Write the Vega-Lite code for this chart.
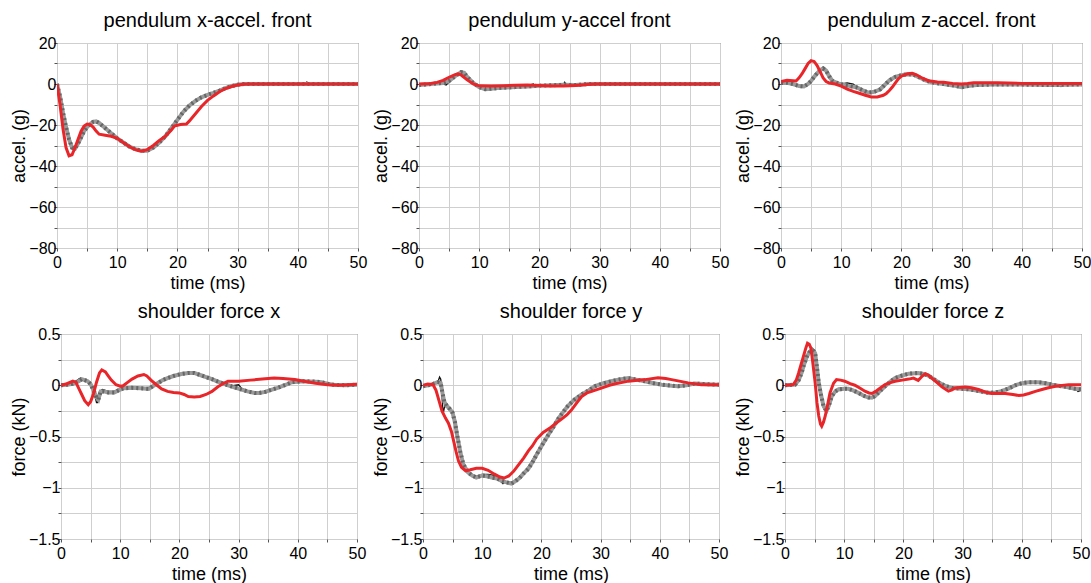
{
  "$schema": "https://vega.github.io/schema/vega-lite/v6.json",
  "padding": {"left": 9, "top": 10, "right": 0, "bottom": 2},
  "background": "white",
  "config": {
    "font": "Liberation Sans",
    "view": {"stroke": "#555555", "strokeWidth": 1},
    "title": {"fontSize": 20, "fontWeight": "normal", "color": "#000000", "font": "Liberation Sans", "offset": 4},
    "axis": {
      "labelFont": "Liberation Sans", "titleFont": "Liberation Sans",
      "labelFontSize": 16, "titleFontSize": 18, "titleFontWeight": "normal",
      "labelColor": "#000000", "titleColor": "#000000",
      "gridColor": "#cfcfcf", "gridWidth": 1, "domain": false,
      "tickSize": 3, "tickColor": "#555555",
      "labelFlush": false, "labelOverlap": false, "labelBound": false
    },
    "axisX": {"titlePadding": 4, "labelPadding": 3},
    "axisY": {"titlePadding": 0, "labelPadding": -2}
  },
  "datasets": {
    "r1": [{"t":0,"v":0},{"t":0.5,"v":-10},{"t":1,"v":-22},{"t":1.5,"v":-31},{"t":2,"v":-35},{"t":2.5,"v":-34.5},{"t":3,"v":-31},{"t":3.5,"v":-27},{"t":4,"v":-23},{"t":4.5,"v":-20.5},{"t":5,"v":-19.5},{"t":5.5,"v":-19.8},{"t":6,"v":-21},{"t":6.5,"v":-23},{"t":7,"v":-24.5},{"t":8,"v":-25},{"t":9,"v":-25.5},{"t":10,"v":-26.5},{"t":11,"v":-28.5},{"t":12,"v":-30.5},{"t":13,"v":-32},{"t":14,"v":-32.8},{"t":15,"v":-32},{"t":16,"v":-30},{"t":17,"v":-27.5},{"t":18,"v":-25.5},{"t":19,"v":-22.5},{"t":19.5,"v":-20.5},{"t":20.5,"v":-19.8},{"t":21.5,"v":-19.5},{"t":22,"v":-18},{"t":23,"v":-14.5},{"t":24,"v":-11},{"t":25,"v":-8},{"t":26,"v":-5.8},{"t":27,"v":-3.8},{"t":28,"v":-2.2},{"t":29,"v":-1.2},{"t":30,"v":-0.5},{"t":31,"v":-0.1},{"t":32,"v":0},{"t":50,"v":0}],
    "g1": [{"t":0,"v":0},{"t":0.5,"v":-6},{"t":1,"v":-14},{"t":1.5,"v":-21},{"t":2,"v":-27},{"t":2.5,"v":-31},{"t":3,"v":-31.5},{"t":3.5,"v":-29},{"t":4,"v":-26},{"t":4.5,"v":-23},{"t":5,"v":-21},{"t":5.5,"v":-19.5},{"t":6,"v":-18.5},{"t":6.5,"v":-18.2},{"t":7,"v":-19},{"t":8,"v":-21.5},{"t":9,"v":-24},{"t":10,"v":-26.5},{"t":11,"v":-28.5},{"t":12,"v":-30.5},{"t":13,"v":-31.8},{"t":14,"v":-32.5},{"t":15,"v":-32.5},{"t":16,"v":-31},{"t":17,"v":-28.5},{"t":18,"v":-25.5},{"t":19,"v":-21.5},{"t":20,"v":-17.5},{"t":21,"v":-13.5},{"t":22,"v":-10.5},{"t":23,"v":-8.2},{"t":24,"v":-6.5},{"t":25,"v":-5.3},{"t":26,"v":-4.3},{"t":27,"v":-3.2},{"t":28,"v":-2},{"t":29,"v":-1},{"t":30,"v":-0.4},{"t":31,"v":0},{"t":50,"v":0}],
    "k1": [{"t":0,"v":0},{"t":1,"v":-14},{"t":2,"v":-27.5},{"t":3,"v":-32},{"t":4,"v":-26},{"t":5,"v":-21},{"t":6,"v":-18.5},{"t":7,"v":-19.2},{"t":8,"v":-22},{"t":9,"v":-24.5},{"t":9.5,"v":-25.5},{"t":10,"v":-26},{"t":12,"v":-30.5},{"t":14,"v":-32.5},{"t":15,"v":-32.5},{"t":16,"v":-31},{"t":18,"v":-25.5},{"t":20,"v":-17.5},{"t":22,"v":-10.5},{"t":24,"v":-6.5},{"t":26,"v":-4.3},{"t":28,"v":-2},{"t":30,"v":-0.4},{"t":31,"v":0},{"t":35,"v":0.5},{"t":36,"v":0},{"t":41,"v":0},{"t":41.5,"v":1},{"t":42,"v":0},{"t":45,"v":0},{"t":45.5,"v":-0.5},{"t":46,"v":0},{"t":50,"v":0}],
    "r2": [{"t":0,"v":0},{"t":2,"v":0.3},{"t":3,"v":0.8},{"t":4,"v":1.8},{"t":5,"v":3.3},{"t":6,"v":4.6},{"t":6.5,"v":5},{"t":7,"v":4.4},{"t":8,"v":2},{"t":9,"v":0},{"t":10,"v":-0.9},{"t":12,"v":-1},{"t":14,"v":-0.8},{"t":16,"v":-0.6},{"t":18,"v":-0.5},{"t":20,"v":-0.7},{"t":22,"v":-1},{"t":24,"v":-1},{"t":26,"v":-0.7},{"t":28,"v":-0.3},{"t":29.5,"v":0},{"t":50,"v":0}],
    "g2": [{"t":0,"v":-0.5},{"t":1,"v":-0.3},{"t":2,"v":0},{"t":3,"v":0.3},{"t":4,"v":0.5},{"t":5,"v":1.5},{"t":6,"v":3.8},{"t":7,"v":5.8},{"t":7.5,"v":5.5},{"t":8,"v":3.5},{"t":9,"v":0.5},{"t":10,"v":-1.5},{"t":11,"v":-2.5},{"t":12,"v":-2.3},{"t":13,"v":-2},{"t":14,"v":-1.8},{"t":16,"v":-1.5},{"t":18,"v":-1.2},{"t":20,"v":-0.8},{"t":22,"v":-0.6},{"t":24,"v":-0.4},{"t":26,"v":-0.5},{"t":27,"v":-0.3},{"t":28,"v":0},{"t":50,"v":0}],
    "k2": [{"t":0,"v":-0.5},{"t":2,"v":0},{"t":4,"v":0},{"t":4.5,"v":-0.5},{"t":5,"v":1},{"t":6,"v":3.5},{"t":7,"v":5.5},{"t":8,"v":3.5},{"t":9,"v":0.5},{"t":10,"v":-1.5},{"t":11,"v":-2.5},{"t":12,"v":-2},{"t":13,"v":-1.5},{"t":14,"v":-1.2},{"t":16,"v":-1},{"t":18,"v":-0.8},{"t":19,"v":0},{"t":19.2,"v":-0.8},{"t":21,"v":-0.5},{"t":22.5,"v":-0.3},{"t":24,"v":-0.2},{"t":24.2,"v":0.8},{"t":24.4,"v":-0.3},{"t":26,"v":-0.4},{"t":28,"v":0},{"t":50,"v":0}],
    "r3": [{"t":0,"v":1.2},{"t":1,"v":1.8},{"t":2,"v":1.6},{"t":2.5,"v":1.5},{"t":3,"v":3},{"t":3.5,"v":5},{"t":4,"v":7.5},{"t":4.5,"v":10},{"t":5,"v":11.4},{"t":5.5,"v":11},{"t":6,"v":9},{"t":6.5,"v":6},{"t":7,"v":3},{"t":7.5,"v":1.2},{"t":8,"v":0.5},{"t":9,"v":0},{"t":10,"v":-1},{"t":11,"v":-2.5},{"t":12,"v":-3.6},{"t":13,"v":-4.5},{"t":14,"v":-5.5},{"t":15,"v":-6.3},{"t":16,"v":-6.3},{"t":17,"v":-5.5},{"t":17.5,"v":-4.6},{"t":18,"v":-3.2},{"t":18.5,"v":-1.5},{"t":19,"v":0.5},{"t":19.5,"v":2.5},{"t":20,"v":3.8},{"t":21,"v":5},{"t":21.8,"v":5.2},{"t":22.5,"v":4.5},{"t":23.5,"v":2.8},{"t":24.5,"v":1.6},{"t":26,"v":1},{"t":27,"v":0.8},{"t":28.5,"v":0.2},{"t":30,"v":0},{"t":31,"v":0.2},{"t":32,"v":0.6},{"t":36,"v":0.6},{"t":40,"v":0.3},{"t":50,"v":0.3}],
    "g3": [{"t":0,"v":0.5},{"t":1,"v":0.6},{"t":2,"v":0},{"t":3,"v":-1},{"t":3.8,"v":-1.2},{"t":4.5,"v":0},{"t":5,"v":1.5},{"t":5.5,"v":3.5},{"t":6,"v":5.2},{"t":6.5,"v":6.8},{"t":7,"v":7.6},{"t":7.5,"v":6.5},{"t":8,"v":3.8},{"t":8.5,"v":1.6},{"t":9.5,"v":0.3},{"t":11,"v":-0.8},{"t":12.5,"v":-1.6},{"t":13.5,"v":-3},{"t":14.5,"v":-4.2},{"t":15.5,"v":-3.8},{"t":16.5,"v":-2.6},{"t":17.2,"v":-0.5},{"t":18,"v":1.8},{"t":19,"v":3.5},{"t":20,"v":4.3},{"t":21,"v":4.8},{"t":22,"v":4.6},{"t":23,"v":3.2},{"t":24,"v":1.8},{"t":25,"v":0.8},{"t":26,"v":0.3},{"t":27,"v":0},{"t":28,"v":-0.5},{"t":29,"v":-0.9},{"t":30,"v":-1.6},{"t":31,"v":-1},{"t":32.5,"v":-0.5},{"t":35,"v":-0.3},{"t":40,"v":-0.3},{"t":45,"v":-0.5},{"t":50,"v":-0.2}],
    "k3": [{"t":0,"v":0.5},{"t":2,"v":0},{"t":3,"v":-1},{"t":4,"v":-1},{"t":4.5,"v":0},{"t":5,"v":1.5},{"t":6,"v":5.5},{"t":7,"v":7.5},{"t":7.5,"v":7},{"t":8,"v":3.8},{"t":9,"v":0.8},{"t":10,"v":0},{"t":11,"v":0.5},{"t":12,"v":0},{"t":13,"v":-2.5},{"t":14,"v":-3.5},{"t":15,"v":-4.5},{"t":16,"v":-3},{"t":17,"v":-0.5},{"t":18,"v":1.8},{"t":19,"v":3.5},{"t":20,"v":4.5},{"t":21,"v":5},{"t":22,"v":4.5},{"t":23,"v":3.2},{"t":24,"v":2},{"t":25,"v":1},{"t":26,"v":0.3},{"t":28,"v":-0.5},{"t":29.5,"v":-1.5},{"t":30,"v":-2},{"t":31,"v":-1},{"t":33,"v":-0.5},{"t":36,"v":-0.3},{"t":40,"v":0},{"t":43,"v":-0.3},{"t":46,"v":-0.5},{"t":46.5,"v":-1.2},{"t":47,"v":-0.3},{"t":50,"v":-0.2}],
    "r4": [{"t":0,"v":0},{"t":1,"v":0.015},{"t":2,"v":0.04},{"t":2.5,"v":0.03},{"t":3,"v":-0.03},{"t":3.5,"v":-0.09},{"t":4,"v":-0.15},{"t":4.6,"v":-0.19},{"t":5,"v":-0.16},{"t":5.5,"v":-0.08},{"t":6,"v":0.03},{"t":6.5,"v":0.12},{"t":6.9,"v":0.15},{"t":7.5,"v":0.13},{"t":8,"v":0.09},{"t":8.5,"v":0.05},{"t":9.3,"v":0.005},{"t":10,"v":-0.01},{"t":10.5,"v":-0.005},{"t":11.3,"v":0.03},{"t":12,"v":0.06},{"t":13,"v":0.09},{"t":14,"v":0.105},{"t":14.5,"v":0.09},{"t":15.2,"v":0.05},{"t":16,"v":0.01},{"t":17,"v":-0.035},{"t":18,"v":-0.06},{"t":19,"v":-0.07},{"t":20,"v":-0.075},{"t":20.8,"v":-0.09},{"t":21.5,"v":-0.11},{"t":22.5,"v":-0.115},{"t":23.5,"v":-0.11},{"t":24.5,"v":-0.09},{"t":25.5,"v":-0.06},{"t":26.5,"v":-0.015},{"t":27.5,"v":0.02},{"t":28.2,"v":0.04},{"t":30,"v":0.04},{"t":32,"v":0.05},{"t":34,"v":0.06},{"t":36,"v":0.07},{"t":37.5,"v":0.065},{"t":39.5,"v":0.055},{"t":41.5,"v":0.035},{"t":43,"v":0.02},{"t":45,"v":0.006},{"t":47,"v":0},{"t":50,"v":0.01}],
    "g4": [{"t":0,"v":0},{"t":1,"v":0.005},{"t":2,"v":0.015},{"t":3,"v":0.04},{"t":3.5,"v":0.06},{"t":4,"v":0.05},{"t":4.5,"v":0.04},{"t":5,"v":0.01},{"t":5.5,"v":-0.05},{"t":6,"v":-0.12},{"t":6.3,"v":-0.14},{"t":6.7,"v":-0.06},{"t":7.2,"v":-0.06},{"t":8,"v":-0.07},{"t":9,"v":-0.07},{"t":9.7,"v":-0.05},{"t":10.5,"v":-0.03},{"t":12,"v":-0.025},{"t":13.5,"v":-0.03},{"t":14.8,"v":-0.035},{"t":15.5,"v":-0.01},{"t":16.3,"v":0.02},{"t":17.2,"v":0.05},{"t":18,"v":0.07},{"t":19,"v":0.09},{"t":20.3,"v":0.11},{"t":21.5,"v":0.12},{"t":22.5,"v":0.12},{"t":23.5,"v":0.1},{"t":24.5,"v":0.08},{"t":25.5,"v":0.06},{"t":26.5,"v":0.035},{"t":28,"v":0.005},{"t":29,"v":-0.015},{"t":30.4,"v":-0.04},{"t":31.5,"v":-0.06},{"t":32.7,"v":-0.075},{"t":33.5,"v":-0.075},{"t":34.5,"v":-0.065},{"t":35.5,"v":-0.045},{"t":36.6,"v":-0.025},{"t":38,"v":0.005},{"t":39,"v":0.03},{"t":41,"v":0.04},{"t":43,"v":0.035},{"t":44,"v":0.03},{"t":45,"v":0.015},{"t":46,"v":0.005},{"t":48,"v":0},{"t":50,"v":0.005}],
    "k4": [{"t":0,"v":0},{"t":2,"v":0.015},{"t":3,"v":0.06},{"t":3.3,"v":0.07},{"t":4,"v":0.05},{"t":4.5,"v":0.045},{"t":5,"v":0.01},{"t":5.5,"v":-0.05},{"t":6,"v":-0.17},{"t":6.2,"v":-0.17},{"t":6.5,"v":-0.06},{"t":7,"v":-0.04},{"t":8,"v":-0.06},{"t":9,"v":-0.06},{"t":10,"v":-0.03},{"t":11,"v":-0.02},{"t":12,"v":-0.02},{"t":13,"v":-0.02},{"t":14.5,"v":-0.03},{"t":16,"v":0.01},{"t":18,"v":0.07},{"t":20,"v":0.11},{"t":22,"v":0.12},{"t":24,"v":0.09},{"t":26,"v":0.05},{"t":28,"v":0.005},{"t":29,"v":-0.005},{"t":30,"v":0.005},{"t":30.5,"v":-0.03},{"t":32,"v":-0.07},{"t":33,"v":-0.08},{"t":34,"v":-0.07},{"t":36,"v":-0.03},{"t":38,"v":0.005},{"t":40,"v":0.04},{"t":42,"v":0.04},{"t":43,"v":0.04},{"t":44,"v":0.035},{"t":45,"v":0.01},{"t":46,"v":0},{"t":50,"v":0.005}],
    "r5": [{"t":0,"v":0},{"t":0.8,"v":0.012},{"t":1.7,"v":0.005},{"t":2.2,"v":-0.05},{"t":2.7,"v":-0.15},{"t":3.2,"v":-0.25},{"t":3.8,"v":-0.32},{"t":4.3,"v":-0.37},{"t":4.8,"v":-0.45},{"t":5.2,"v":-0.55},{"t":5.6,"v":-0.65},{"t":6,"v":-0.74},{"t":6.5,"v":-0.8},{"t":7.2,"v":-0.835},{"t":8,"v":-0.825},{"t":9,"v":-0.81},{"t":10,"v":-0.81},{"t":11,"v":-0.83},{"t":12,"v":-0.865},{"t":13,"v":-0.895},{"t":13.7,"v":-0.905},{"t":14.5,"v":-0.885},{"t":15.3,"v":-0.84},{"t":16.1,"v":-0.78},{"t":17,"v":-0.71},{"t":17.8,"v":-0.64},{"t":18.5,"v":-0.59},{"t":19.2,"v":-0.525},{"t":20.3,"v":-0.46},{"t":21.5,"v":-0.415},{"t":22.5,"v":-0.37},{"t":23.4,"v":-0.33},{"t":24.3,"v":-0.29},{"t":25.1,"v":-0.24},{"t":26,"v":-0.17},{"t":26.8,"v":-0.11},{"t":27.7,"v":-0.075},{"t":28.5,"v":-0.06},{"t":30,"v":-0.03},{"t":31.5,"v":0},{"t":32.5,"v":0.015},{"t":34.7,"v":0.04},{"t":37.5,"v":0.055},{"t":39.7,"v":0.074},{"t":41,"v":0.065},{"t":42,"v":0.055},{"t":44.8,"v":0.023},{"t":47,"v":0.006},{"t":50,"v":0.006}],
    "g5": [{"t":0,"v":-0.01},{"t":1.4,"v":0.006},{"t":2.5,"v":0.03},{"t":3,"v":0.02},{"t":3.3,"v":-0.08},{"t":3.6,"v":-0.16},{"t":4,"v":-0.2},{"t":4.5,"v":-0.23},{"t":5,"v":-0.27},{"t":5.4,"v":-0.36},{"t":5.8,"v":-0.5},{"t":6.3,"v":-0.65},{"t":6.8,"v":-0.77},{"t":7.6,"v":-0.85},{"t":8.3,"v":-0.88},{"t":9,"v":-0.9},{"t":10,"v":-0.88},{"t":11,"v":-0.89},{"t":11.6,"v":-0.9},{"t":12.5,"v":-0.91},{"t":13.2,"v":-0.93},{"t":14,"v":-0.945},{"t":14.9,"v":-0.96},{"t":15.5,"v":-0.94},{"t":16.3,"v":-0.905},{"t":17,"v":-0.86},{"t":17.8,"v":-0.815},{"t":18.6,"v":-0.74},{"t":19.4,"v":-0.655},{"t":20.2,"v":-0.575},{"t":21.1,"v":-0.49},{"t":22,"v":-0.41},{"t":22.8,"v":-0.33},{"t":23.7,"v":-0.26},{"t":24.5,"v":-0.2},{"t":25.6,"v":-0.14},{"t":26.8,"v":-0.09},{"t":28,"v":-0.05},{"t":29,"v":-0.01},{"t":30.5,"v":0.02},{"t":31.8,"v":0.039},{"t":33,"v":0.055},{"t":34.7,"v":0.07},{"t":36,"v":0.055},{"t":37.5,"v":0.039},{"t":39,"v":0.02},{"t":40.3,"v":0.006},{"t":42,"v":-0.005},{"t":43.1,"v":-0.01},{"t":44.5,"v":0},{"t":45.9,"v":0.016},{"t":48,"v":0.01},{"t":50,"v":0.006}],
    "k5": [{"t":0,"v":-0.01},{"t":1.4,"v":0.006},{"t":2.5,"v":0.03},{"t":2.8,"v":0.08},{"t":3,"v":0.06},{"t":3.2,"v":-0.1},{"t":3.4,"v":-0.28},{"t":3.6,"v":-0.22},{"t":4,"v":-0.18},{"t":4.5,"v":-0.22},{"t":5,"v":-0.26},{"t":5.4,"v":-0.35},{"t":5.8,"v":-0.5},{"t":6.3,"v":-0.66},{"t":6.8,"v":-0.78},{"t":7.6,"v":-0.86},{"t":8.3,"v":-0.87},{"t":9,"v":-0.89},{"t":10,"v":-0.87},{"t":11,"v":-0.87},{"t":12,"v":-0.88},{"t":13,"v":-0.93},{"t":13.5,"v":-0.96},{"t":14,"v":-0.94},{"t":15,"v":-0.95},{"t":16,"v":-0.91},{"t":17,"v":-0.85},{"t":18,"v":-0.78},{"t":19,"v":-0.68},{"t":20,"v":-0.59},{"t":21,"v":-0.5},{"t":22,"v":-0.42},{"t":23,"v":-0.32},{"t":24.5,"v":-0.2},{"t":26,"v":-0.12},{"t":27.5,"v":-0.06},{"t":29,"v":-0.01},{"t":31,"v":0.03},{"t":33,"v":0.05},{"t":35,"v":0.065},{"t":37,"v":0.04},{"t":39,"v":0.02},{"t":40,"v":0},{"t":41,"v":-0.005},{"t":42,"v":-0.01},{"t":43,"v":-0.005},{"t":44,"v":-0.01},{"t":46,"v":0.015},{"t":48,"v":0.01},{"t":50,"v":0.006}],
    "r6": [{"t":0,"v":0},{"t":1.4,"v":0.006},{"t":1.9,"v":0.05},{"t":2.3,"v":0.12},{"t":2.7,"v":0.2},{"t":3.1,"v":0.28},{"t":3.5,"v":0.36},{"t":3.8,"v":0.41},{"t":4.1,"v":0.4},{"t":4.4,"v":0.36},{"t":4.7,"v":0.22},{"t":5.1,"v":0.02},{"t":5.4,"v":-0.17},{"t":5.7,"v":-0.3},{"t":6,"v":-0.38},{"t":6.2,"v":-0.4},{"t":6.5,"v":-0.36},{"t":6.8,"v":-0.3},{"t":7.2,"v":-0.19},{"t":7.6,"v":-0.074},{"t":8.2,"v":0.02},{"t":8.7,"v":0.055},{"t":9.4,"v":0.05},{"t":10.1,"v":0.039},{"t":11,"v":0.015},{"t":11.8,"v":0},{"t":12.7,"v":-0.03},{"t":13.5,"v":-0.058},{"t":14.2,"v":-0.075},{"t":14.7,"v":-0.08},{"t":15.3,"v":-0.06},{"t":15.8,"v":-0.04},{"t":16.9,"v":0.006},{"t":17.8,"v":0.025},{"t":18.6,"v":0.039},{"t":19.8,"v":0.05},{"t":20.9,"v":0.06},{"t":21.7,"v":0.07},{"t":22.5,"v":0.048},{"t":23.2,"v":0.09},{"t":23.7,"v":0.113},{"t":24.2,"v":0.1},{"t":24.8,"v":0.07},{"t":25.6,"v":0.03},{"t":26.5,"v":-0.016},{"t":27.6,"v":-0.058},{"t":28.2,"v":-0.045},{"t":28.7,"v":-0.026},{"t":30.4,"v":-0.016},{"t":31.5,"v":-0.025},{"t":32.7,"v":-0.042},{"t":34,"v":-0.07},{"t":34.9,"v":-0.08},{"t":37.2,"v":-0.08},{"t":38.5,"v":-0.09},{"t":39.5,"v":-0.1},{"t":40.3,"v":-0.095},{"t":41.2,"v":-0.08},{"t":42.3,"v":-0.06},{"t":43.4,"v":-0.042},{"t":44.5,"v":-0.025},{"t":45.7,"v":-0.01},{"t":47.9,"v":0.006},{"t":50,"v":0.006}],
    "g6": [{"t":0,"v":0},{"t":1.7,"v":0.006},{"t":2.3,"v":0.05},{"t":2.8,"v":0.12},{"t":3.2,"v":0.2},{"t":3.7,"v":0.28},{"t":4.1,"v":0.32},{"t":4.5,"v":0.345},{"t":4.9,"v":0.33},{"t":5.1,"v":0.31},{"t":5.4,"v":0.17},{"t":5.7,"v":0.023},{"t":6.1,"v":-0.1},{"t":6.5,"v":-0.2},{"t":7,"v":-0.25},{"t":7.4,"v":-0.2},{"t":7.9,"v":-0.106},{"t":8.5,"v":-0.06},{"t":9,"v":-0.042},{"t":10,"v":-0.035},{"t":10.7,"v":-0.035},{"t":11.5,"v":-0.05},{"t":12.4,"v":-0.074},{"t":13.2,"v":-0.1},{"t":14.1,"v":-0.12},{"t":14.7,"v":-0.12},{"t":15.2,"v":-0.106},{"t":16,"v":-0.06},{"t":16.9,"v":-0.01},{"t":17.8,"v":0.035},{"t":18.6,"v":0.07},{"t":19.8,"v":0.095},{"t":20.9,"v":0.113},{"t":22.5,"v":0.12},{"t":23.4,"v":0.11},{"t":24.2,"v":0.094},{"t":25,"v":0.065},{"t":25.9,"v":0.03},{"t":27,"v":-0.005},{"t":28.2,"v":-0.026},{"t":29.9,"v":-0.035},{"t":31,"v":-0.04},{"t":32.1,"v":-0.05},{"t":33.2,"v":-0.062},{"t":34.4,"v":-0.074},{"t":35.5,"v":-0.07},{"t":36.6,"v":-0.058},{"t":37.8,"v":-0.03},{"t":38.9,"v":0},{"t":40,"v":0.02},{"t":41.2,"v":0.03},{"t":42.8,"v":0.03},{"t":44,"v":0.02},{"t":45.1,"v":0.006},{"t":46.2,"v":-0.005},{"t":47.4,"v":-0.016},{"t":48.2,"v":-0.025},{"t":49,"v":-0.035},{"t":50,"v":-0.04}],
    "k6": [{"t":0,"v":0},{"t":1.7,"v":0.006},{"t":2.8,"v":0.12},{"t":3.7,"v":0.28},{"t":4.3,"v":0.33},{"t":4.6,"v":0.36},{"t":5,"v":0.34},{"t":5.3,"v":0.2},{"t":5.7,"v":0.02},{"t":6.1,"v":-0.1},{"t":6.5,"v":-0.22},{"t":6.9,"v":-0.26},{"t":7.3,"v":-0.2},{"t":7.9,"v":-0.1},{"t":8.5,"v":-0.05},{"t":9,"v":-0.03},{"t":10,"v":-0.03},{"t":11,"v":-0.04},{"t":12,"v":-0.07},{"t":13,"v":-0.09},{"t":14,"v":-0.12},{"t":14.7,"v":-0.13},{"t":15.5,"v":-0.1},{"t":16.5,"v":-0.02},{"t":17.5,"v":0.03},{"t":18.6,"v":0.07},{"t":20,"v":0.1},{"t":21,"v":0.11},{"t":22.5,"v":0.12},{"t":24,"v":0.1},{"t":25,"v":0.07},{"t":26,"v":0.03},{"t":27,"v":0},{"t":28,"v":-0.02},{"t":30,"v":-0.04},{"t":32,"v":-0.05},{"t":34,"v":-0.07},{"t":35.5,"v":-0.07},{"t":37,"v":-0.05},{"t":38.5,"v":-0.01},{"t":40,"v":0.02},{"t":42,"v":0.03},{"t":43,"v":0.025},{"t":45,"v":0.006},{"t":47,"v":-0.015},{"t":48,"v":-0.02},{"t":49,"v":-0.03},{"t":49.5,"v":-0.06},{"t":50,"v":-0.05}]
  },
  "spacing": 8,
  "align": "none",
  "vconcat": [
    {
      "bounds": "flush",
      "spacing": 61,
      "hconcat": [
        {
          "title": "pendulum x-accel. front",
          "width": 301, "height": 205,
          "encoding": {
            "x": {"field": "t", "type": "quantitative", "scale": {"domain": [0, 50], "nice": false}, "axis": {"title": "time (ms)", "values": [0,5,10,15,20,25,30,35,40,45,50], "labelExpr": "datum.value % 10 == 0 ? datum.label : ''"}},
            "y": {"field": "v", "type": "quantitative", "scale": {"domain": [-80, 20], "nice": false}, "axis": {"title": "accel. (g)", "values": [-80,-70,-60,-50,-40,-30,-20,-10,0,10,20], "labelExpr": "datum.value % 20 == 0 ? datum.label : ''"}}
          },
          "layer": [
            {"data": {"values": [{}]}, "mark": {"type": "rule", "color": "#555555", "strokeWidth": 1}, "encoding": {"x": {"datum": 0}, "x2": {"datum": 50}, "y": {"datum": 0}}},
            {"data": {"name": "k1"}, "mark": {"type": "line", "color": "#111111", "strokeWidth": 1.3, "clip": true}},
            {"data": {"name": "g1"}, "mark": {"type": "line", "color": "#9a9a9a", "strokeWidth": 4, "clip": true}},
            {"data": {"name": "g1"}, "mark": {"type": "line", "color": "#666666", "strokeWidth": 4, "strokeDash": [2, 3], "clip": true}},
            {"data": {"name": "r1"}, "mark": {"type": "line", "color": "#e8262a", "strokeWidth": 3, "clip": true}}
          ]
        },
        {
          "title": "pendulum y-accel front",
          "width": 301, "height": 205,
          "encoding": {
            "x": {"field": "t", "type": "quantitative", "scale": {"domain": [0, 50], "nice": false}, "axis": {"title": "time (ms)", "values": [0,5,10,15,20,25,30,35,40,45,50], "labelExpr": "datum.value % 10 == 0 ? datum.label : ''"}},
            "y": {"field": "v", "type": "quantitative", "scale": {"domain": [-80, 20], "nice": false}, "axis": {"title": "accel. (g)", "values": [-80,-70,-60,-50,-40,-30,-20,-10,0,10,20], "labelExpr": "datum.value % 20 == 0 ? datum.label : ''"}}
          },
          "layer": [
            {"data": {"values": [{}]}, "mark": {"type": "rule", "color": "#555555", "strokeWidth": 1}, "encoding": {"x": {"datum": 0}, "x2": {"datum": 50}, "y": {"datum": 0}}},
            {"data": {"name": "k2"}, "mark": {"type": "line", "color": "#111111", "strokeWidth": 1.3, "clip": true}},
            {"data": {"name": "g2"}, "mark": {"type": "line", "color": "#9a9a9a", "strokeWidth": 4, "clip": true}},
            {"data": {"name": "g2"}, "mark": {"type": "line", "color": "#666666", "strokeWidth": 4, "strokeDash": [2, 3], "clip": true}},
            {"data": {"name": "r2"}, "mark": {"type": "line", "color": "#e8262a", "strokeWidth": 3, "clip": true}}
          ]
        },
        {
          "title": "pendulum z-accel. front",
          "width": 301, "height": 205,
          "encoding": {
            "x": {"field": "t", "type": "quantitative", "scale": {"domain": [0, 50], "nice": false}, "axis": {"title": "time (ms)", "values": [0,5,10,15,20,25,30,35,40,45,50], "labelExpr": "datum.value % 10 == 0 ? datum.label : ''"}},
            "y": {"field": "v", "type": "quantitative", "scale": {"domain": [-80, 20], "nice": false}, "axis": {"title": "accel. (g)", "values": [-80,-70,-60,-50,-40,-30,-20,-10,0,10,20], "labelExpr": "datum.value % 20 == 0 ? datum.label : ''"}}
          },
          "layer": [
            {"data": {"values": [{}]}, "mark": {"type": "rule", "color": "#555555", "strokeWidth": 1}, "encoding": {"x": {"datum": 0}, "x2": {"datum": 50}, "y": {"datum": 0}}},
            {"data": {"name": "k3"}, "mark": {"type": "line", "color": "#111111", "strokeWidth": 1.3, "clip": true}},
            {"data": {"name": "g3"}, "mark": {"type": "line", "color": "#9a9a9a", "strokeWidth": 4, "clip": true}},
            {"data": {"name": "g3"}, "mark": {"type": "line", "color": "#666666", "strokeWidth": 4, "strokeDash": [2, 3], "clip": true}},
            {"data": {"name": "r3"}, "mark": {"type": "line", "color": "#e8262a", "strokeWidth": 3, "clip": true}}
          ]
        }
      ]
    },
    {
      "bounds": "flush",
      "spacing": 0,
      "hconcat": [
        {
          "width": 4, "height": 1,
          "view": {"stroke": null},
          "data": {"values": [{}]},
          "mark": {"type": "point", "opacity": 0}
        },
        {
          "bounds": "flush",
          "spacing": 66,
          "hconcat": [
            {
              "title": "shoulder force x",
              "width": 296, "height": 205,
              "encoding": {
                "x": {"field": "t", "type": "quantitative", "scale": {"domain": [0, 50], "nice": false}, "axis": {"title": "time (ms)", "values": [0,5,10,15,20,25,30,35,40,45,50], "labelExpr": "datum.value % 10 == 0 ? datum.label : ''"}},
                "y": {"field": "v", "type": "quantitative", "scale": {"domain": [-1.5, 0.5], "nice": false}, "axis": {"title": "force (kN)", "format": "~g", "values": [-1.5,-1.25,-1,-0.75,-0.5,-0.25,0,0.25,0.5], "labelExpr": "datum.value % 0.5 == 0 ? datum.label : ''"}}
              },
              "layer": [
                {"data": {"values": [{}]}, "mark": {"type": "rule", "color": "#555555", "strokeWidth": 1}, "encoding": {"x": {"datum": 0}, "x2": {"datum": 50}, "y": {"datum": 0}}},
                {"data": {"name": "k4"}, "mark": {"type": "line", "color": "#111111", "strokeWidth": 1.3, "clip": true}},
                {"data": {"name": "g4"}, "mark": {"type": "line", "color": "#9a9a9a", "strokeWidth": 4, "clip": true}},
                {"data": {"name": "g4"}, "mark": {"type": "line", "color": "#666666", "strokeWidth": 4, "strokeDash": [2, 3], "clip": true}},
                {"data": {"name": "r4"}, "mark": {"type": "line", "color": "#e8262a", "strokeWidth": 3, "clip": true}}
              ]
            },
            {
              "title": "shoulder force y",
              "width": 296, "height": 205,
              "encoding": {
                "x": {"field": "t", "type": "quantitative", "scale": {"domain": [0, 50], "nice": false}, "axis": {"title": "time (ms)", "values": [0,5,10,15,20,25,30,35,40,45,50], "labelExpr": "datum.value % 10 == 0 ? datum.label : ''"}},
                "y": {"field": "v", "type": "quantitative", "scale": {"domain": [-1.5, 0.5], "nice": false}, "axis": {"title": "force (kN)", "format": "~g", "values": [-1.5,-1.25,-1,-0.75,-0.5,-0.25,0,0.25,0.5], "labelExpr": "datum.value % 0.5 == 0 ? datum.label : ''"}}
              },
              "layer": [
                {"data": {"values": [{}]}, "mark": {"type": "rule", "color": "#555555", "strokeWidth": 1}, "encoding": {"x": {"datum": 0}, "x2": {"datum": 50}, "y": {"datum": 0}}},
                {"data": {"name": "k5"}, "mark": {"type": "line", "color": "#111111", "strokeWidth": 1.3, "clip": true}},
                {"data": {"name": "g5"}, "mark": {"type": "line", "color": "#9a9a9a", "strokeWidth": 4, "clip": true}},
                {"data": {"name": "g5"}, "mark": {"type": "line", "color": "#666666", "strokeWidth": 4, "strokeDash": [2, 3], "clip": true}},
                {"data": {"name": "r5"}, "mark": {"type": "line", "color": "#e8262a", "strokeWidth": 3, "clip": true}}
              ]
            },
            {
              "title": "shoulder force z",
              "width": 296, "height": 205,
              "encoding": {
                "x": {"field": "t", "type": "quantitative", "scale": {"domain": [0, 50], "nice": false}, "axis": {"title": "time (ms)", "values": [0,5,10,15,20,25,30,35,40,45,50], "labelExpr": "datum.value % 10 == 0 ? datum.label : ''"}},
                "y": {"field": "v", "type": "quantitative", "scale": {"domain": [-1.5, 0.5], "nice": false}, "axis": {"title": "force (kN)", "format": "~g", "values": [-1.5,-1.25,-1,-0.75,-0.5,-0.25,0,0.25,0.5], "labelExpr": "datum.value % 0.5 == 0 ? datum.label : ''"}}
              },
              "layer": [
                {"data": {"values": [{}]}, "mark": {"type": "rule", "color": "#555555", "strokeWidth": 1}, "encoding": {"x": {"datum": 0}, "x2": {"datum": 50}, "y": {"datum": 0}}},
                {"data": {"name": "k6"}, "mark": {"type": "line", "color": "#111111", "strokeWidth": 1.3, "clip": true}},
                {"data": {"name": "g6"}, "mark": {"type": "line", "color": "#9a9a9a", "strokeWidth": 4, "clip": true}},
                {"data": {"name": "g6"}, "mark": {"type": "line", "color": "#666666", "strokeWidth": 4, "strokeDash": [2, 3], "clip": true}},
                {"data": {"name": "r6"}, "mark": {"type": "line", "color": "#e8262a", "strokeWidth": 3, "clip": true}}
              ]
            }
          ]
        }
      ]
    }
  ]
}
